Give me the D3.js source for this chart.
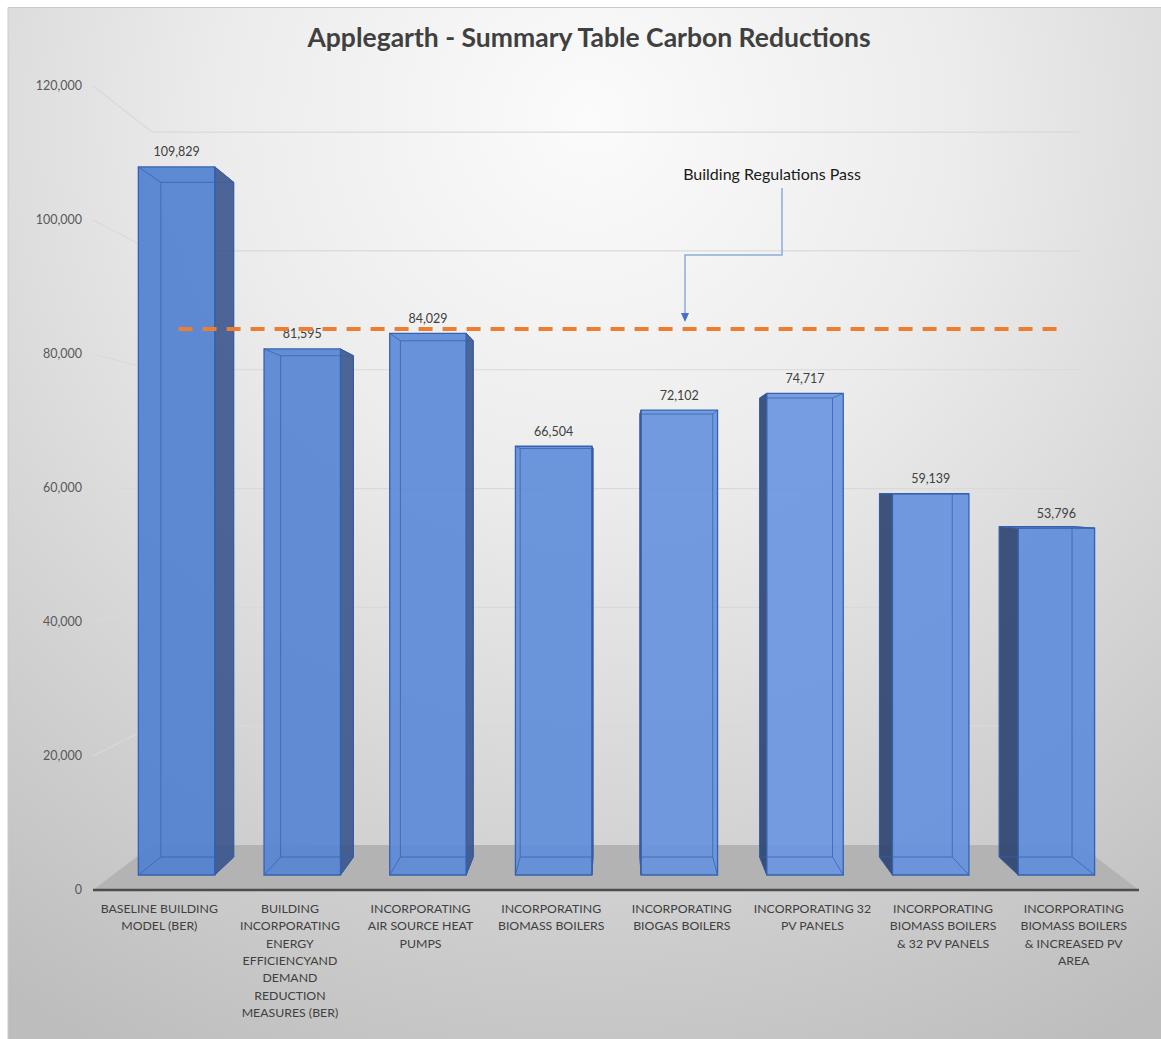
<!DOCTYPE html>
<html>
<head>
<meta charset="utf-8">
<script src="https://cdn.jsdelivr.net/npm/d3@7"></script>
<style>
  html, body { margin: 0; padding: 0; background: #ffffff; }
  svg { display: block; }
  text { font-family: Lato, "Open Sans", sans-serif; }
</style>
</head>
<body>
<svg id="chart" width="1161" height="1039"></svg>
<script>
// ---------------- DATA ----------------
const title = "Applegarth - Summary Table Carbon Reductions";
const categoryLines = [
  ["BASELINE BUILDING", "MODEL (BER)"],
  ["BUILDING", "INCORPORATING", "ENERGY", "EFFICIENCYAND", "DEMAND", "REDUCTION", "MEASURES (BER)"],
  ["INCORPORATING", "AIR SOURCE HEAT", "PUMPS"],
  ["INCORPORATING", "BIOMASS BOILERS"],
  ["INCORPORATING", "BIOGAS BOILERS"],
  ["INCORPORATING 32", "PV PANELS"],
  ["INCORPORATING", "BIOMASS BOILERS", "& 32 PV PANELS"],
  ["INCORPORATING", "BIOMASS BOILERS", "& INCREASED PV", "AREA"]
];
const categories = categoryLines.map(l => l.join(" "));
const values = [109829, 81595, 84029, 66504, 72102, 74717, 59139, 53796];
const yTicks = [0, 20000, 40000, 60000, 80000, 100000, 120000];
const passLevel = 84700;
const passLabel = "Building Regulations Pass";

// ---------------- LAYOUT ----------------
const W = 1161, H = 1039;
const svg = d3.select("#chart");
const defs = svg.append("defs");

const bg = defs.append("radialGradient").attr("id", "bg")
  .attr("gradientUnits", "userSpaceOnUse")
  .attr("cx", 590).attr("cy", 120).attr("r", 1050)
  .attr("fx", 590).attr("fy", 120);
bg.append("stop").attr("offset", "0%").attr("stop-color", "#fbfbfb");
bg.append("stop").attr("offset", "35%").attr("stop-color", "#ececec");
bg.append("stop").attr("offset", "100%").attr("stop-color", "#bdbdbd");

svg.append("rect").attr("x", 8).attr("y", 7).attr("width", W - 8).attr("height", H - 7)
  .attr("fill", "url(#bg)");
svg.append("path").attr("d", `M8,${H} V7.5 H${W}`).attr("fill", "none")
  .attr("stroke", "#c9c9c9").attr("stroke-width", 1);

// perspective setup
const VP = { x: 616, y: 493 };
const x = d3.scaleBand().domain(categories).range([94, 1139])
  .paddingInner(0.392).paddingOuter(0.196);
const y = d3.scaleLinear().domain([0, 120000]).range([890, 86]);
const zMax = 0.1279;                     // perspective depth of back wall
const depth = d3.scaleLinear().domain([0, 1]).range([0, zMax]);
const barZ0 = depth(0.307), barZ1 = depth(0.709);

function proj(px, py, z) {
  const k = 1 / (1 + z);
  return [VP.x + (px - VP.x) * k, VP.y + (py - VP.y) * k];
}
const poly = pts => "M" + pts.map(p => p[0].toFixed(2) + "," + p[1].toFixed(2)).join("L") + "Z";

const x0 = 93, x1 = x.range()[1];

// floor
const floorPts = [proj(x0, y(0), 0), proj(x1, y(0), 0), proj(x1, y(0), zMax), proj(x0, y(0), zMax)];
svg.append("path").attr("d", poly(floorPts)).attr("fill", "#b3b3b3");

// gridlines (side wall + back wall)
const grid = svg.append("g");
yTicks.filter(v => v > 0).forEach(v => {
  const a = proj(x0, y(v), 0), b = proj(x0, y(v), zMax), c = proj(x1, y(v), zMax);
  grid.append("path").attr("d", `M${a}L${b}L${c}`).attr("fill", "none")
    .attr("stroke", "#d9d9d9").attr("stroke-width", 1.2);
});

// floor front edge (axis)
svg.append("line").attr("x1", x0).attr("x2", x1).attr("y1", y(0)).attr("y2", y(0))
  .attr("stroke", "#4d4d4d").attr("stroke-width", 2.5);

// y axis labels
svg.append("g").selectAll("text").data(yTicks).join("text")
  .attr("x", 82).attr("y", d => y(d)).attr("dy", "0.35em")
  .attr("text-anchor", "end").attr("font-size", 12.5).attr("fill", "#595959")
  .text(d => d3.format(",")(d));

// bars
const bars = svg.append("g");
categories.forEach((c, i) => {
  const v = values[i];
  const L = x(c), R = x(c) + x.bandwidth();
  const yb = y(0), yt = y(v);
  const FBL = proj(L, yb, barZ0), FBR = proj(R, yb, barZ0), FTL = proj(L, yt, barZ0), FTR = proj(R, yt, barZ0);
  const BBL = proj(L, yb, barZ1), BBR = proj(R, yb, barZ1), BTL = proj(L, yt, barZ1), BTR = proj(R, yt, barZ1);
  const cx = (L + R) / 2;
  const g = bars.append("g");
  const rightVisible = R < VP.x;
  const leftVisible = L > VP.x;
  if (rightVisible) {
    g.append("path").attr("d", poly([FBR, BBR, BTR, FTR])).attr("fill", "#35528a")
      .attr("fill-opacity", 0.88).attr("stroke", "#2f528f").attr("stroke-width", 1);
  }
  if (leftVisible) {
    g.append("path").attr("d", poly([FBL, BBL, BTL, FTL])).attr("fill", "#2b4270")
      .attr("fill-opacity", 0.9).attr("stroke", "#2f528f").attr("stroke-width", 1);
  }
  if (yt > VP.y) {
    g.append("path").attr("d", poly([FTL, FTR, BTR, BTL])).attr("fill", "#6f97dc")
      .attr("stroke", "#3a64b0").attr("stroke-width", 1);
  }
  const light = d3.interpolateRgb("#4f7fd0", "#6b96e0")(1 - Math.abs(cx - 800) / 700);
  g.append("path").attr("d", poly([FBL, FBR, FTR, FTL])).attr("fill", light).attr("fill-opacity", 0.92);
  const hidden = [[BBL, BBR], [BBR, BTR], [BTR, BTL], [BTL, BBL], [FBL, BBL], [FBR, BBR], [FTL, BTL], [FTR, BTR]];
  hidden.forEach(([p, q]) => {
    g.append("line").attr("x1", p[0]).attr("y1", p[1]).attr("x2", q[0]).attr("y2", q[1])
      .attr("stroke", "#3560ad").attr("stroke-width", 1).attr("stroke-opacity", 0.75);
  });
  g.append("path").attr("d", poly([FBL, FBR, FTR, FTL])).attr("fill", "none")
    .attr("stroke", "#3461b0").attr("stroke-width", 1.3);
  const lp = proj(cx, yt, barZ0);
  g.append("text").attr("x", lp[0]).attr("y", lp[1] - 15).attr("dy", "0.35em")
    .attr("text-anchor", "middle").attr("font-size", 12.5).attr("fill", "#404040")
    .text(d3.format(",")(v));
});

// category labels
const cat = svg.append("g");
categories.forEach((c, i) => {
  const cxl = x(c) + x.bandwidth() / 2;
  const t = cat.append("text").attr("x", cxl).attr("y", 913)
    .attr("text-anchor", "middle").attr("font-size", 12.3).attr("fill", "#404040");
  categoryLines[i].forEach((ln, j) => {
    t.append("tspan").attr("x", cxl).attr("dy", j === 0 ? 0 : 17.3).text(ln);
  });
});

// pass line (dashed)
const pA = proj(x(categories[0]) + x.bandwidth() / 2, y(passLevel), barZ0);
const pB = proj(x(categories[7]) + x.bandwidth() / 2, y(passLevel), barZ0);
svg.append("line").attr("x1", pA[0] + 2).attr("y1", pA[1]).attr("x2", pB[0] + 3).attr("y2", pB[1])
  .attr("stroke", "#ed7d31").attr("stroke-width", 4).attr("stroke-dasharray", "14,10");

// annotation
const tipY = pA[1] - 7;
svg.append("path").attr("d", `M782,188 V255 H685 V${tipY - 8}`).attr("fill", "none")
  .attr("stroke", "#8faadc").attr("stroke-width", 1.5);
svg.append("path").attr("d", `M681,${tipY - 9} L689,${tipY - 9} L685,${tipY} Z`).attr("fill", "#4472c4");
svg.append("text").attr("x", 772).attr("y", 174).attr("dy", "0.35em").attr("text-anchor", "middle")
  .attr("font-size", 16).attr("fill", "#1a1a1a").text(passLabel);

// title
svg.append("text").attr("x", 589).attr("y", 38).attr("dy", "0.35em").attr("text-anchor", "middle")
  .attr("font-size", 26.5).attr("font-weight", "bold").attr("fill", "#404040").text(title);
</script>
</body>
</html>
